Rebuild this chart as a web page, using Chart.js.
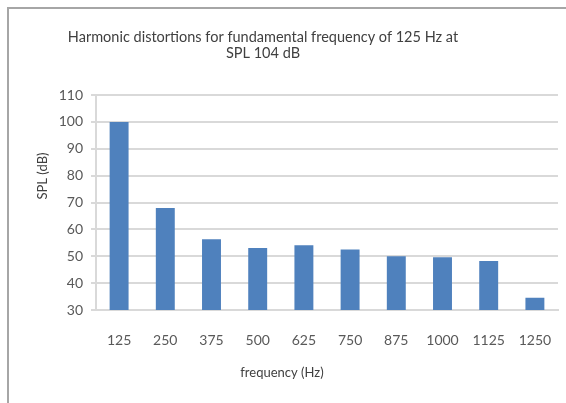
<!DOCTYPE html>
<html>
<head>
<meta charset="utf-8">
<script src="https://cdn.jsdelivr.net/npm/chart.js@4"></script>
<style>
  html, body { margin: 0; padding: 0; background: #ffffff; }
  #wrap { position: relative; width: 566px; height: 403px; }
</style>
</head>
<body>
<div id="wrap"><canvas id="c" width="566" height="403"></canvas></div>
<script>
const categories = ['125', '250', '375', '500', '625', '750', '875', '1000', '1125', '1250'];
const splValues = [100, 68, 56.3, 53.1, 54.1, 52.5, 50, 49.6, 48.2, 34.6];
const yTicks = [30, 40, 50, 60, 70, 80, 90, 100, 110];
const titleLines = ['Harmonic distortions for fundamental frequency of 125 Hz at', 'SPL 104 dB'];
const xTitle = 'frequency (Hz)';
const yTitle = 'SPL (dB)';

const FONT = 'Lato, "Open Sans", sans-serif';

const decor = {
  id: 'decor',
  beforeDraw(chart) {
    const ctx = chart.ctx;
    ctx.save();
    ctx.fillStyle = '#ffffff';
    ctx.fillRect(0, 0, chart.width, chart.height);
    ctx.fillStyle = '#a6a6a6';
    ctx.fillRect(7, 7, chart.width - 7, 2);
    ctx.fillRect(7, 7, 2, chart.height - 7);
    ctx.restore();
  },
  afterDraw(chart) {
    const ctx = chart.ctx;
    ctx.save();
    ctx.fillStyle = '#404040';
    ctx.textAlign = 'center';
    ctx.textBaseline = 'middle';
    ctx.font = '14.5px ' + FONT;
    ctx.fillText(titleLines[0], 263, 37);
    ctx.fillText(titleLines[1], 263, 53);
    ctx.font = '13px ' + FONT;
    ctx.fillText(xTitle, 282, 373);
    ctx.translate(43, 176);
    ctx.rotate(-Math.PI / 2);
    ctx.fillText(yTitle, 0, 0);
    ctx.restore();
  }
};

new Chart(document.getElementById('c'), {
  type: 'bar',
  data: {
    labels: categories,
    datasets: [{
      label: 'SPL',
      data: splValues,
      backgroundColor: '#4f81bd',
      borderWidth: 0,
      barPercentage: 0.41,
      categoryPercentage: 1.0
    }]
  },
  options: {
    responsive: false,
    animation: false,
    devicePixelRatio: 1,
    layout: { padding: { top: 95, right: 8, bottom: 0, left: 0 } },
    plugins: {
      legend: { display: false },
      title: { display: false },
      tooltip: { enabled: false }
    },
    scales: {
      x: {
        grid: { display: false, drawTicks: false },
        border: { display: true, color: '#d9d9d9', width: 2 },
        ticks: { color: '#595959', font: { family: FONT, size: 14 }, padding: 22, maxRotation: 0, autoSkip: false },
        afterFit(scale) { scale.height = 93; scale.paddingLeft = 0; scale.paddingRight = 0; }
      },
      y: {
        min: 30,
        max: 110,
        afterBuildTicks(scale) { scale.ticks = yTicks.map(v => ({ value: v })); },
        grid: { color: '#d9d9d9', lineWidth: 2, drawTicks: true, tickLength: 5, tickColor: '#d9d9d9' },
        border: { display: true, color: '#d9d9d9', width: 2 },
        ticks: { color: '#595959', font: { family: FONT, size: 14 }, padding: 8 },
        afterFit(scale) { scale.width = 96; scale.paddingTop = 0; scale.paddingBottom = 0; }
      }
    }
  },
  plugins: [decor]
});
</script>
</body>
</html>
